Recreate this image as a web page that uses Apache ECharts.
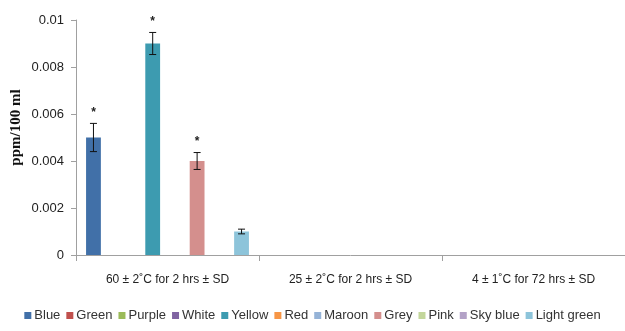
<!DOCTYPE html>
<html>
<head>
<meta charset="utf-8">
<script src="https://cdn.jsdelivr.net/npm/echarts@6/dist/echarts.min.js"></script>
<style>
  html, body { margin: 0; padding: 0; background: #fff; }
  #chart { width: 625px; height: 331px; }
</style>
</head>
<body>
<div id="chart"></div>
<script>
// Storage conditions (x categories)
const categories = [
  '60 ± 2˚C for 2 hrs ± SD',
  '25 ± 2˚C for 2 hrs ± SD',
  '4 ± 1˚C for 72 hrs ± SD'
];

// Sample names (one bar series each)
const seriesNames = ['Blue', 'Green', 'Purple', 'White', 'Yellow', 'Red',
  'Maroon', 'Grey', 'Pink', 'Sky blue', 'Light green'];

const seriesColors = ['#4170A8', '#C0504D', '#9BBB59', '#8064A2', '#3D9BB0',
  '#F79646', '#95B3D7', '#D48F8D', '#C3D69B', '#B3A2C7', '#8DC4DA'];

// Mean values, ppm/100 ml, per sample across the three conditions
const blueVals       = [0.005, 0, 0];
const greenVals      = [0, 0, 0];
const purpleVals     = [0, 0, 0];
const whiteVals      = [0, 0, 0];
const yellowVals     = [0.009, 0, 0];
const redVals        = [0, 0, 0];
const maroonVals     = [0, 0, 0];
const greyVals       = [0.004, 0, 0];
const pinkVals       = [0, 0, 0];
const skyBlueVals    = [0, 0, 0];
const lightGreenVals = [0.001, 0, 0];

// Standard deviations
const blueSD       = [0.0006, 0, 0];
const yellowSD     = [0.00047, 0, 0];
const greySD       = [0.00036, 0, 0];
const lightGreenSD = [0.0001, 0, 0];

// Significance markers
const blueSig   = ['*', '', ''];
const yellowSig = ['*', '', ''];
const greySig   = ['*', '', ''];

const values = [blueVals, greenVals, purpleVals, whiteVals, yellowVals, redVals,
  maroonVals, greyVals, pinkVals, skyBlueVals, lightGreenVals];
const sds = { 0: blueSD, 4: yellowSD, 7: greySD, 10: lightGreenSD };
const sigs = { 0: blueSig, 4: yellowSig, 7: greySig };

const CAT_GAP = 0.11;
const N = seriesNames.length;
const sans = '"Liberation Sans", Arial, sans-serif';

// Error bar records: [categoryIndex, seriesIndex, mean, sd, marker]
const errData = [];
Object.keys(sds).forEach(k => {
  const s = +k;
  sds[s].forEach((sd, c) => {
    if (values[s][c] > 0) errData.push([c, s, values[s][c], sd, (sigs[s] || [])[c] || '']);
  });
});

const barSeries = seriesNames.map((name, i) => ({
  name: name,
  type: 'bar',
  data: values[i],
  barGap: '0%',
  barCategoryGap: (CAT_GAP * 100) + '%',
  itemStyle: { color: seriesColors[i] },
  emphasis: { disabled: true }
}));

const errorSeries = {
  type: 'custom',
  name: 'err',
  data: errData,
  z: 10,
  encode: { x: 0, y: 2 },
  renderItem: function (params, api) {
    const c = api.value(0), s = api.value(1), m = api.value(2), sd = api.value(3);
    const mark = errData[params.dataIndex][4];
    const band = api.size([1, 0])[0];
    const slot = band * (1 - CAT_GAP) / N;
    const cx = api.coord([c, m])[0] + (s - (N - 1) / 2) * slot;
    const yTop = api.coord([c, m + sd])[1];
    const yBot = api.coord([c, m - sd])[1];
    const hw = 3.5;
    const st = { stroke: '#111', lineWidth: 1 };
    const children = [
      { type: 'line', shape: { x1: cx, y1: yTop, x2: cx, y2: yBot }, style: st },
      { type: 'line', shape: { x1: cx - hw, y1: yTop, x2: cx + hw, y2: yTop }, style: st },
      { type: 'line', shape: { x1: cx - hw, y1: yBot, x2: cx + hw, y2: yBot }, style: st }
    ];
    if (mark) {
      children.push({
        type: 'text',
        style: {
          text: mark, x: cx, y: yTop - 5, align: 'center', verticalAlign: 'bottom',
          fill: '#222', font: 'bold 12px "Liberation Sans", sans-serif'
        }
      });
    }
    return { type: 'group', children: children };
  }
};

const chart = echarts.init(document.getElementById('chart'), null, { renderer: 'canvas' });
chart.setOption({
  animation: false,
  backgroundColor: '#fff',
  grid: { left: 76, right: 0, top: 20, bottom: 76, containLabel: false, outerBoundsMode: 'none' },
  legend: {
    data: seriesNames,
    bottom: 4,
    left: 'center',
    icon: 'rect',
    itemWidth: 7,
    itemHeight: 7,
    itemGap: 6,
    textStyle: { fontFamily: sans, fontSize: 13, color: '#333', padding: [0, 0, 0, -2] }
  },
  xAxis: {
    type: 'category',
    data: categories,
    axisLine: { lineStyle: { color: '#a0a0a0', width: 1 } },
    axisTick: { show: true, alignWithLabel: false, length: 6, lineStyle: { color: '#a0a0a0' } },
    axisLabel: { interval: 0, hideOverlap: false, fontFamily: sans, fontSize: 12, color: '#222', margin: 19 },
    splitLine: { show: false }
  },
  yAxis: {
    type: 'value',
    min: 0,
    max: 0.01,
    interval: 0.002,
    name: 'ppm/100 ml',
    nameLocation: 'middle',
    nameGap: 52,
    nameMoveOverlap: false,
    nameTextStyle: {
      fontFamily: '"Liberation Serif", serif', fontWeight: 'bold', fontSize: 15, color: '#111',
      padding: [0, 0, 0, 20]
    },
    axisLine: { show: true, lineStyle: { color: '#a0a0a0', width: 1 } },
    axisTick: { show: true, length: 5, lineStyle: { color: '#a0a0a0' } },
    axisLabel: { fontFamily: sans, fontSize: 13, color: '#222', margin: 12 },
    splitLine: { show: false }
  },
  series: barSeries.concat([errorSeries])
});
</script>
</body>
</html>
